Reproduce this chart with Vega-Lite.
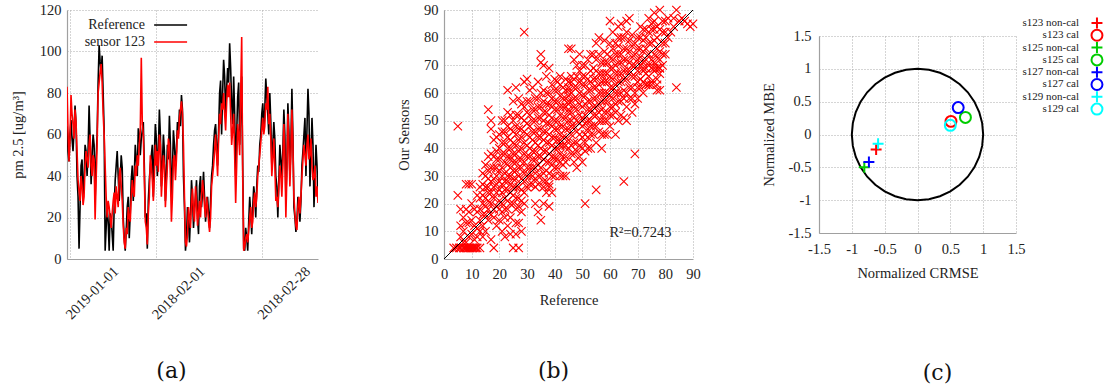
{
  "$schema": "https://vega.github.io/schema/vega-lite/v6.json",
  "background": "white",
  "padding": {"left": 10, "top": 2, "right": 0, "bottom": 0},
  "config": {
    "font": "Liberation Serif",
    "view": {"stroke": null},
    "axis": {"labelFont": "Liberation Serif", "titleFont": "Liberation Serif", "labelFontSize": 14.5, "titleFontSize": 14.5, "titleFontWeight": "normal", "labelColor": "#222222", "titleColor": "#222222", "domainColor": "#a0a0a0", "domainWidth": 1.2, "ticks": false, "gridColor": "#aaaaaa", "gridDash": [1, 2], "gridWidth": 1, "labelPadding": 6, "labelFlush": false, "labelOverlap": false, "labelSeparation": -100},
    "title": {"font": "DejaVu Serif", "fontSize": 22, "fontWeight": "normal", "color": "#111111"}
  },
  "datasets": {
    "ts": [
      {"d":0,"ref":64,"s":83},{"d":0.5,"ref":47,"s":47},{"d":1,"ref":67,"s":79},{"d":1.5,"ref":52,"s":65},{"d":2,"ref":74,"s":72},{"d":2.5,"ref":40,"s":52},{"d":3,"ref":5,"s":33},{"d":3.5,"ref":45,"s":40},{"d":4,"ref":30,"s":26},{"d":4.5,"ref":55,"s":45},
      {"d":5,"ref":40,"s":48},{"d":5.5,"ref":74,"s":55},{"d":6,"ref":36,"s":45},{"d":6.5,"ref":60,"s":50},{"d":7,"ref":28,"s":19},{"d":7.5,"ref":60,"s":55},{"d":8,"ref":103,"s":85},{"d":8.5,"ref":90,"s":94},{"d":9,"ref":80,"s":70},{"d":9.5,"ref":4,"s":45},
      {"d":10,"ref":25,"s":20},{"d":10.5,"ref":4,"s":25},{"d":11,"ref":20,"s":15},{"d":11.5,"ref":4,"s":28},{"d":12,"ref":38,"s":22},{"d":12.5,"ref":52,"s":30},{"d":13,"ref":28,"s":40},{"d":13.5,"ref":50,"s":35},{"d":14,"ref":20,"s":16},{"d":14.5,"ref":4,"s":5},
      {"d":15,"ref":25,"s":12},{"d":15.5,"ref":10,"s":20},{"d":16,"ref":38,"s":30},{"d":16.5,"ref":28,"s":32},{"d":17,"ref":55,"s":45},{"d":17.5,"ref":40,"s":50},{"d":18,"ref":60,"s":55},{"d":18.5,"ref":58,"s":97},{"d":19,"ref":66,"s":60},{"d":19.5,"ref":20,"s":18},
      {"d":20,"ref":5,"s":7},{"d":20.5,"ref":38,"s":30},{"d":21,"ref":50,"s":45},{"d":21.5,"ref":30,"s":28},{"d":22,"ref":65,"s":55},{"d":22.5,"ref":40,"s":52},{"d":23,"ref":72,"s":60},{"d":23.5,"ref":35,"s":30},{"d":24,"ref":60,"s":50},{"d":24.5,"ref":28,"s":25},
      {"d":25,"ref":55,"s":45},{"d":25.5,"ref":69,"s":55},{"d":26,"ref":30,"s":18},{"d":26.5,"ref":62,"s":48},{"d":27,"ref":45,"s":38},{"d":27.5,"ref":66,"s":62},{"d":28,"ref":72,"s":68},{"d":28.5,"ref":79,"s":76},{"d":29,"ref":40,"s":55},{"d":29.5,"ref":4,"s":8},
      {"d":30,"ref":25,"s":12},{"d":30.5,"ref":8,"s":20},{"d":31,"ref":38,"s":28},{"d":31.5,"ref":15,"s":22},{"d":32,"ref":30,"s":35},{"d":32.5,"ref":20,"s":16},{"d":33,"ref":35,"s":28},{"d":33.5,"ref":25,"s":30},{"d":34,"ref":42,"s":33},{"d":34.5,"ref":18,"s":20},
      {"d":35,"ref":30,"s":25},{"d":35.5,"ref":15,"s":13},{"d":36,"ref":40,"s":35},{"d":36.5,"ref":55,"s":45},{"d":37,"ref":65,"s":60},{"d":37.5,"ref":45,"s":40},{"d":38,"ref":80,"s":70},{"d":38.5,"ref":60,"s":75},{"d":39,"ref":96,"s":80},{"d":39.5,"ref":70,"s":62},
      {"d":40,"ref":92,"s":84},{"d":40.5,"ref":104,"s":85},{"d":41,"ref":75,"s":55},{"d":41.5,"ref":88,"s":70},{"d":42,"ref":40,"s":27},{"d":42.5,"ref":78,"s":65},{"d":43,"ref":55,"s":50},{"d":43.5,"ref":88,"s":107},{"d":44,"ref":5,"s":4},{"d":44.5,"ref":15,"s":10},
      {"d":45,"ref":4,"s":8},{"d":45.5,"ref":30,"s":20},{"d":46,"ref":12,"s":15},{"d":46.5,"ref":35,"s":28},{"d":47,"ref":20,"s":25},{"d":47.5,"ref":45,"s":40},{"d":48,"ref":55,"s":50},{"d":48.5,"ref":70,"s":62},{"d":49,"ref":62,"s":60},{"d":49.5,"ref":87,"s":75},
      {"d":50,"ref":70,"s":83},{"d":50.5,"ref":80,"s":70},{"d":51,"ref":45,"s":40},{"d":51.5,"ref":66,"s":58},{"d":52,"ref":40,"s":28},{"d":52.5,"ref":20,"s":25},{"d":53,"ref":55,"s":45},{"d":53.5,"ref":38,"s":30},{"d":54,"ref":72,"s":65},{"d":54.5,"ref":30,"s":20},
      {"d":55,"ref":75,"s":70},{"d":55.5,"ref":40,"s":35},{"d":56,"ref":82,"s":72},{"d":56.5,"ref":25,"s":30},{"d":57,"ref":13,"s":16},{"d":57.5,"ref":30,"s":25},{"d":58,"ref":18,"s":22},{"d":58.5,"ref":45,"s":40},{"d":59,"ref":60,"s":55},{"d":59.5,"ref":40,"s":45},
      {"d":60,"ref":82,"s":60},{"d":60.5,"ref":35,"s":50},{"d":61,"ref":68,"s":45},{"d":61.5,"ref":25,"s":40},{"d":62,"ref":55,"s":30},{"d":62.5,"ref":30,"s":27},
      {"d":0.25,"ref":52,"s":62},{"d":0.75,"ref":60,"s":58},{"d":1.25,"ref":58,"s":70},{"d":1.75,"ref":62,"s":58},{"d":2.25,"ref":65,"s":66},{"d":2.75,"ref":30,"s":38},{"d":3.25,"ref":25,"s":28},{"d":3.75,"ref":48,"s":35},{"d":4.25,"ref":38,"s":30},{"d":4.75,"ref":52,"s":52},
      {"d":5.25,"ref":52,"s":44},{"d":5.75,"ref":58,"s":60},{"d":6.25,"ref":50,"s":40},{"d":6.75,"ref":55,"s":48},{"d":7.25,"ref":48,"s":38},{"d":7.75,"ref":85,"s":80},{"d":8.25,"ref":95,"s":90},{"d":8.75,"ref":98,"s":85},{"d":9.25,"ref":62,"s":60},{"d":9.75,"ref":15,"s":30},
      {"d":10.25,"ref":18,"s":28},{"d":10.75,"ref":22,"s":20},{"d":11.25,"ref":12,"s":22},{"d":11.75,"ref":25,"s":32},{"d":12.25,"ref":45,"s":35},{"d":12.75,"ref":40,"s":25},{"d":13.25,"ref":38,"s":44},{"d":13.75,"ref":44,"s":28},{"d":14.25,"ref":10,"s":8},{"d":14.75,"ref":14,"s":15},
      {"d":15.25,"ref":30,"s":25},{"d":15.75,"ref":22,"s":18},{"d":16.25,"ref":45,"s":38},{"d":16.75,"ref":40,"s":30},{"d":17.25,"ref":48,"s":40},{"d":17.75,"ref":63,"s":45},{"d":18.25,"ref":50,"s":62},{"d":18.75,"ref":62,"s":65},{"d":19.25,"ref":45,"s":40},{"d":19.75,"ref":22,"s":15},
      {"d":20.25,"ref":28,"s":22},{"d":20.75,"ref":45,"s":50},{"d":21.25,"ref":55,"s":38},{"d":21.75,"ref":50,"s":40},{"d":22.25,"ref":58,"s":45},{"d":22.75,"ref":52,"s":42},{"d":23.25,"ref":60,"s":55},{"d":23.75,"ref":45,"s":40},{"d":24.25,"ref":52,"s":45},{"d":24.75,"ref":40,"s":35},
      {"d":25.25,"ref":48,"s":58},{"d":25.75,"ref":55,"s":40},{"d":26.25,"ref":42,"s":30},{"d":26.75,"ref":55,"s":50},{"d":27.25,"ref":52,"s":48},{"d":27.75,"ref":60,"s":58},{"d":28.25,"ref":64,"s":72},{"d":28.75,"ref":72,"s":70},{"d":29.25,"ref":25,"s":30},{"d":29.75,"ref":10,"s":6},
      {"d":30.25,"ref":18,"s":25},{"d":30.75,"ref":20,"s":15},{"d":31.25,"ref":30,"s":34},{"d":31.75,"ref":24,"s":18},{"d":32.25,"ref":38,"s":28},{"d":32.75,"ref":12,"s":22},{"d":33.25,"ref":40,"s":20},{"d":33.75,"ref":32,"s":38},{"d":34.25,"ref":30,"s":25},{"d":34.75,"ref":25,"s":30},
      {"d":35.25,"ref":22,"s":18},{"d":35.75,"ref":28,"s":20},{"d":36.25,"ref":45,"s":40},{"d":36.75,"ref":62,"s":52},{"d":37.25,"ref":55,"s":50},{"d":37.75,"ref":62,"s":58},{"d":38.25,"ref":86,"s":65},{"d":38.75,"ref":80,"s":72},{"d":39.25,"ref":88,"s":70},{"d":39.75,"ref":82,"s":75},
      {"d":40.25,"ref":85,"s":78},{"d":40.75,"ref":92,"s":70},{"d":41.25,"ref":65,"s":62},{"d":41.75,"ref":70,"s":50},{"d":42.25,"ref":60,"s":45},{"d":42.75,"ref":85,"s":60},{"d":43.25,"ref":70,"s":80},{"d":43.75,"ref":45,"s":40},{"d":44.25,"ref":4,"s":6},{"d":44.75,"ref":10,"s":12},
      {"d":45.25,"ref":18,"s":14},{"d":45.75,"ref":22,"s":25},{"d":46.25,"ref":25,"s":18},{"d":46.75,"ref":30,"s":32},{"d":47.25,"ref":35,"s":30},{"d":47.75,"ref":42,"s":45},{"d":48.25,"ref":60,"s":56},{"d":48.75,"ref":75,"s":68},{"d":49.25,"ref":72,"s":64},{"d":49.75,"ref":78,"s":72},
      {"d":50.25,"ref":60,"s":65},{"d":50.75,"ref":66,"s":58},{"d":51.25,"ref":55,"s":48},{"d":51.75,"ref":58,"s":45},{"d":52.25,"ref":35,"s":30},{"d":52.75,"ref":38,"s":35},{"d":53.25,"ref":48,"s":40},{"d":53.75,"ref":52,"s":45},{"d":54.25,"ref":60,"s":50},{"d":54.75,"ref":45,"s":40},
      {"d":55.25,"ref":62,"s":55},{"d":55.75,"ref":55,"s":50},{"d":56.25,"ref":60,"s":55},{"d":56.75,"ref":20,"s":22},{"d":57.25,"ref":18,"s":14},{"d":57.75,"ref":25,"s":30},{"d":58.25,"ref":28,"s":30},{"d":58.75,"ref":52,"s":48},{"d":59.25,"ref":68,"s":50},{"d":59.75,"ref":62,"s":55},
      {"d":60.25,"ref":70,"s":48},{"d":60.75,"ref":50,"s":58},{"d":61.25,"ref":55,"s":38},{"d":61.75,"ref":40,"s":45},{"d":62.25,"ref":45,"s":35}
    ],
    "sc": [
      {"x":3.5,"y":4},{"x":4.5,"y":4},{"x":5.5,"y":4},{"x":6,"y":4},{"x":7,"y":4},{"x":7.5,"y":4},{"x":8,"y":4},{"x":8.5,"y":4},{"x":9,"y":4},{"x":9.5,"y":4},{"x":10,"y":4},{"x":10.5,"y":4},{"x":11,"y":4},{"x":11.5,"y":4},{"x":12,"y":4},{"x":13,"y":4},{"x":18,"y":4},{"x":25,"y":4},{"x":27,"y":4},
      {"x":5,"y":23},{"x":5,"y":48},{"x":6,"y":12},{"x":7,"y":15},{"x":7,"y":10},{"x":8,"y":18},{"x":8,"y":27},{"x":9,"y":27},{"x":10,"y":27},{"x":9,"y":17},{"x":9,"y":13},{"x":10,"y":9},{"x":10,"y":14},{"x":11,"y":12},{"x":11,"y":7},{"x":12,"y":23},{"x":12,"y":11},{"x":6,"y":8},{"x":8,"y":6},{"x":13,"y":14},{"x":13,"y":10},
      {"x":13,"y":18},{"x":14,"y":12},{"x":14,"y":20},{"x":14,"y":27},{"x":15,"y":16},{"x":15,"y":22},{"x":15,"y":30},{"x":15,"y":10},{"x":16,"y":18},{"x":16,"y":24},{"x":16,"y":14},{"x":16,"y":32},{"x":17,"y":20},{"x":17,"y":28},{"x":17,"y":38},{"x":17,"y":47},{"x":17,"y":50},{"x":16,"y":54},{"x":18,"y":22},{"x":18,"y":26},{"x":18,"y":33},{"x":18,"y":15},{"x":18,"y":43},{"x":19,"y":19},{"x":19,"y":24},{"x":19,"y":30},{"x":19,"y":36},{"x":20,"y":25},{"x":20,"y":18},{"x":20,"y":32},{"x":20,"y":40},{"x":17,"y":7},{"x":19,"y":12},{"x":20,"y":14},{"x":21,"y":10},{"x":22,"y":50},{"x":21,"y":46},{"x":23,"y":61},{"x":24,"y":52},{"x":24,"y":9},{"x":19,"y":39},{"x":14,"y":23},{"x":15,"y":26},{"x":16,"y":29},
      {"x":21,"y":20},{"x":21,"y":27},{"x":21,"y":33},{"x":21,"y":38},{"x":22,"y":15},{"x":22,"y":22},{"x":22,"y":28},{"x":22,"y":35},{"x":22,"y":42},{"x":23,"y":18},{"x":23,"y":25},{"x":23,"y":30},{"x":23,"y":37},{"x":23,"y":44},{"x":24,"y":20},{"x":24,"y":27},{"x":24,"y":33},{"x":24,"y":40},{"x":24,"y":47},{"x":25,"y":23},{"x":25,"y":29},{"x":25,"y":35},{"x":25,"y":42},{"x":25,"y":50},{"x":26,"y":18},{"x":26,"y":26},{"x":26,"y":32},{"x":26,"y":38},{"x":26,"y":45},{"x":27,"y":22},{"x":27,"y":30},{"x":27,"y":36},{"x":27,"y":43},{"x":27,"y":52},{"x":28,"y":25},{"x":28,"y":33},{"x":28,"y":40},{"x":28,"y":47},{"x":28,"y":56},{"x":29,"y":20},{"x":29,"y":28},{"x":29,"y":35},{"x":29,"y":42},{"x":29,"y":50},{"x":29,"y":64},{"x":30,"y":65},{"x":29,"y":82},{"x":30,"y":30},{"x":30,"y":37},{"x":30,"y":45},{"x":30,"y":53},
      {"x":31,"y":27},{"x":31,"y":33},{"x":31,"y":40},{"x":31,"y":48},{"x":31,"y":57},{"x":32,"y":30},{"x":32,"y":36},{"x":32,"y":43},{"x":32,"y":50},{"x":33,"y":26},{"x":33,"y":33},{"x":33,"y":39},{"x":33,"y":46},{"x":33,"y":54},{"x":34,"y":30},{"x":34,"y":37},{"x":34,"y":44},{"x":34,"y":51},{"x":34,"y":58},{"x":35,"y":14},{"x":35,"y":71},{"x":35,"y":74},{"x":35,"y":33},{"x":35,"y":40},{"x":35,"y":47},{"x":35,"y":55},{"x":28,"y":17},{"x":27,"y":19},{"x":26,"y":13},{"x":22,"y":8},{"x":23,"y":12},{"x":20,"y":45},{"x":21,"y":50},{"x":24,"y":37},{"x":26,"y":48},
      {"x":36,"y":28},{"x":36,"y":36},{"x":36,"y":43},{"x":36,"y":50},{"x":36,"y":57},{"x":37,"y":32},{"x":37,"y":39},{"x":37,"y":46},{"x":37,"y":53},{"x":37,"y":60},{"x":38,"y":27},{"x":38,"y":35},{"x":38,"y":42},{"x":38,"y":49},{"x":38,"y":56},{"x":38,"y":69},{"x":39,"y":30},{"x":39,"y":37},{"x":39,"y":44},{"x":39,"y":51},{"x":39,"y":63},{"x":40,"y":33},{"x":40,"y":40},{"x":40,"y":47},{"x":40,"y":54},{"x":40,"y":61},{"x":41,"y":36},{"x":41,"y":43},{"x":41,"y":50},{"x":41,"y":57},{"x":42,"y":30},{"x":42,"y":38},{"x":42,"y":45},{"x":42,"y":52},{"x":42,"y":59},{"x":43,"y":34},{"x":43,"y":41},{"x":43,"y":48},{"x":43,"y":55},{"x":43,"y":62},{"x":44,"y":30},{"x":44,"y":44},{"x":44,"y":51},{"x":44,"y":58},{"x":44,"y":65},{"x":45,"y":40},{"x":45,"y":47},{"x":45,"y":54},{"x":45,"y":61},{"x":45,"y":76},{"x":46,"y":76},{"x":46,"y":45},{"x":46,"y":50},{"x":46,"y":57},{"x":46,"y":64},{"x":36,"y":26},{"x":37,"y":24},{"x":38,"y":26},{"x":40,"y":36},{"x":42,"y":43},{"x":39,"y":55},{"x":41,"y":64},{"x":43,"y":30},{"x":44,"y":37},
      {"x":47,"y":38},{"x":47,"y":48},{"x":47,"y":55},{"x":47,"y":62},{"x":48,"y":42},{"x":48,"y":50},{"x":48,"y":58},{"x":48,"y":66},{"x":49,"y":45},{"x":49,"y":52},{"x":49,"y":60},{"x":49,"y":68},{"x":50,"y":40},{"x":50,"y":48},{"x":50,"y":55},{"x":50,"y":63},{"x":50,"y":70},{"x":51,"y":20},{"x":51,"y":39},{"x":51,"y":45},{"x":51,"y":52},{"x":51,"y":59},{"x":51,"y":66},{"x":52,"y":47},{"x":52,"y":54},{"x":52,"y":61},{"x":52,"y":72},{"x":53,"y":45},{"x":53,"y":50},{"x":53,"y":57},{"x":53,"y":64},{"x":54,"y":48},{"x":54,"y":55},{"x":54,"y":62},{"x":54,"y":69},{"x":55,"y":25},{"x":55,"y":52},{"x":55,"y":58},{"x":55,"y":65},{"x":55,"y":72},{"x":56,"y":50},{"x":56,"y":56},{"x":56,"y":63},{"x":56,"y":80},{"x":57,"y":45},{"x":57,"y":54},{"x":57,"y":60},{"x":57,"y":67},{"x":58,"y":50},{"x":58,"y":57},{"x":58,"y":64},{"x":58,"y":71},{"x":47,"y":35},{"x":49,"y":37},{"x":52,"y":40},
      {"x":59,"y":53},{"x":59,"y":60},{"x":59,"y":67},{"x":59,"y":74},{"x":60,"y":55},{"x":60,"y":62},{"x":60,"y":69},{"x":60,"y":86},{"x":61,"y":52},{"x":61,"y":58},{"x":61,"y":65},{"x":61,"y":72},{"x":62,"y":56},{"x":62,"y":63},{"x":62,"y":70},{"x":62,"y":78},{"x":63,"y":60},{"x":63,"y":67},{"x":63,"y":74},{"x":63,"y":80},{"x":64,"y":57},{"x":64,"y":64},{"x":64,"y":71},{"x":64,"y":85},{"x":65,"y":28},{"x":65,"y":51},{"x":65,"y":61},{"x":65,"y":68},{"x":65,"y":76},{"x":66,"y":55},{"x":66,"y":65},{"x":66,"y":72},{"x":66,"y":82},{"x":67,"y":58},{"x":67,"y":68},{"x":67,"y":75},{"x":67,"y":87},{"x":68,"y":62},{"x":68,"y":70},{"x":68,"y":77},{"x":69,"y":38},{"x":69,"y":56},{"x":69,"y":66},{"x":69,"y":74},{"x":70,"y":58},{"x":70,"y":64},{"x":70,"y":72},{"x":70,"y":80},{"x":60,"y":48},{"x":62,"y":45},{"x":64,"y":52},{"x":58,"y":45},
      {"x":71,"y":65},{"x":71,"y":70},{"x":71,"y":76},{"x":71,"y":84},{"x":72,"y":60},{"x":72,"y":68},{"x":72,"y":75},{"x":73,"y":63},{"x":73,"y":72},{"x":73,"y":83},{"x":74,"y":63},{"x":74,"y":70},{"x":74,"y":78},{"x":74,"y":87},{"x":75,"y":64},{"x":75,"y":69},{"x":75,"y":85},{"x":76,"y":68},{"x":76,"y":74},{"x":76,"y":83},{"x":76,"y":89},{"x":77,"y":61},{"x":77,"y":65},{"x":77,"y":69},{"x":77,"y":76},{"x":77,"y":84},{"x":78,"y":67},{"x":78,"y":75},{"x":78,"y":90},{"x":79,"y":70},{"x":79,"y":78},{"x":79,"y":82},{"x":80,"y":74},{"x":80,"y":82},{"x":81,"y":80},{"x":81,"y":87},{"x":82,"y":82},{"x":83,"y":84},{"x":83,"y":87},{"x":84,"y":62},{"x":84,"y":90},{"x":85,"y":86},{"x":86,"y":87},{"x":87,"y":86},{"x":88,"y":85},{"x":89,"y":84},{"x":90,"y":85},{"x":72,"y":83},{"x":75,"y":83},{"x":78,"y":61},
      {"x":13,"y":22},{"x":14,"y":16},{"x":14,"y":31},{"x":15,"y":19},{"x":15,"y":34},{"x":16,"y":21},{"x":16,"y":26},{"x":16,"y":37},{"x":17,"y":16},{"x":17,"y":24},{"x":17,"y":33},{"x":18,"y":18},{"x":18,"y":29},{"x":18,"y":37},{"x":19,"y":27},{"x":19,"y":33},{"x":19,"y":44},{"x":20,"y":21},{"x":20,"y":28},{"x":20,"y":36},{"x":12,"y":17},{"x":13,"y":26},{"x":11,"y":18},{"x":10,"y":20},{"x":12,"y":8},{"x":14,"y":8},{"x":7,"y":6},{"x":9,"y":8},{"x":6,"y":18},{"x":8,"y":13},
      {"x":21,"y":17},{"x":21,"y":24},{"x":21,"y":30},{"x":21,"y":42},{"x":22,"y":18},{"x":22,"y":25},{"x":22,"y":31},{"x":22,"y":38},{"x":22,"y":46},{"x":23,"y":21},{"x":23,"y":28},{"x":23,"y":34},{"x":23,"y":40},{"x":23,"y":48},{"x":24,"y":24},{"x":24,"y":30},{"x":24,"y":36},{"x":24,"y":43},{"x":25,"y":20},{"x":25,"y":26},{"x":25,"y":32},{"x":25,"y":38},{"x":25,"y":46},{"x":26,"y":22},{"x":26,"y":29},{"x":26,"y":35},{"x":26,"y":41},{"x":26,"y":52},{"x":27,"y":26},{"x":27,"y":33},{"x":27,"y":39},{"x":27,"y":47},{"x":28,"y":21},{"x":28,"y":29},{"x":28,"y":36},{"x":28,"y":44},{"x":28,"y":51},{"x":29,"y":24},{"x":29,"y":31},{"x":29,"y":38},{"x":29,"y":46},{"x":29,"y":55},{"x":30,"y":26},{"x":30,"y":33},{"x":30,"y":41},{"x":30,"y":49},{"x":30,"y":57},{"x":26,"y":9},{"x":24,"y":15},{"x":27,"y":13},{"x":28,"y":10},{"x":23,"y":53},{"x":25,"y":57},{"x":26,"y":62},{"x":27,"y":58},
      {"x":31,"y":30},{"x":31,"y":37},{"x":31,"y":44},{"x":31,"y":52},{"x":31,"y":61},{"x":32,"y":27},{"x":32,"y":33},{"x":32,"y":39},{"x":32,"y":46},{"x":32,"y":54},{"x":33,"y":29},{"x":33,"y":36},{"x":33,"y":42},{"x":33,"y":50},{"x":33,"y":58},{"x":34,"y":27},{"x":34,"y":34},{"x":34,"y":41},{"x":34,"y":47},{"x":34,"y":55},{"x":35,"y":30},{"x":35,"y":37},{"x":35,"y":44},{"x":35,"y":51},{"x":35,"y":60},{"x":36,"y":31},{"x":36,"y":39},{"x":36,"y":46},{"x":36,"y":53},{"x":36,"y":61},{"x":37,"y":28},{"x":37,"y":35},{"x":37,"y":42},{"x":37,"y":49},{"x":37,"y":56},{"x":38,"y":31},{"x":38,"y":38},{"x":38,"y":45},{"x":38,"y":52},{"x":38,"y":60},{"x":39,"y":34},{"x":39,"y":41},{"x":39,"y":48},{"x":39,"y":58},{"x":40,"y":30},{"x":40,"y":37},{"x":40,"y":44},{"x":40,"y":50},{"x":40,"y":57},{"x":40,"y":65},{"x":33,"y":20},{"x":34,"y":17},{"x":36,"y":20},{"x":38,"y":19},{"x":39,"y":24},{"x":32,"y":62},{"x":34,"y":64},{"x":37,"y":66},{"x":36,"y":70},
      {"x":41,"y":33},{"x":41,"y":40},{"x":41,"y":47},{"x":41,"y":54},{"x":41,"y":61},{"x":42,"y":35},{"x":42,"y":41},{"x":42,"y":48},{"x":42,"y":55},{"x":42,"y":63},{"x":43,"y":37},{"x":43,"y":44},{"x":43,"y":51},{"x":43,"y":58},{"x":44,"y":41},{"x":44,"y":47},{"x":44,"y":55},{"x":44,"y":61},{"x":45,"y":43},{"x":45,"y":50},{"x":45,"y":57},{"x":45,"y":64},{"x":45,"y":62},{"x":45,"y":59},{"x":45,"y":56},{"x":45,"y":53},{"x":46,"y":41},{"x":46,"y":48},{"x":46,"y":53},{"x":46,"y":60},{"x":46,"y":66},{"x":47,"y":42},{"x":47,"y":51},{"x":47,"y":58},{"x":47,"y":65},{"x":48,"y":39},{"x":48,"y":46},{"x":48,"y":54},{"x":48,"y":62},{"x":48,"y":70},{"x":49,"y":41},{"x":49,"y":49},{"x":49,"y":56},{"x":49,"y":64},{"x":50,"y":44},{"x":50,"y":51},{"x":50,"y":59},{"x":50,"y":66},{"x":44,"y":35},{"x":46,"y":38},{"x":48,"y":33},{"x":50,"y":35},{"x":42,"y":66},{"x":47,"y":72},{"x":49,"y":74},
      {"x":51,"y":42},{"x":51,"y":49},{"x":51,"y":56},{"x":51,"y":63},{"x":51,"y":70},{"x":52,"y":44},{"x":52,"y":50},{"x":52,"y":57},{"x":52,"y":65},{"x":53,"y":48},{"x":53,"y":54},{"x":53,"y":61},{"x":53,"y":68},{"x":54,"y":45},{"x":54,"y":52},{"x":54,"y":58},{"x":54,"y":65},{"x":54,"y":74},{"x":55,"y":48},{"x":55,"y":55},{"x":55,"y":62},{"x":55,"y":68},{"x":56,"y":53},{"x":56,"y":60},{"x":56,"y":67},{"x":56,"y":74},{"x":57,"y":50},{"x":57,"y":57},{"x":57,"y":64},{"x":57,"y":71},{"x":58,"y":53},{"x":58,"y":60},{"x":58,"y":67},{"x":58,"y":75},{"x":59,"y":50},{"x":59,"y":57},{"x":59,"y":64},{"x":59,"y":71},{"x":60,"y":52},{"x":60,"y":59},{"x":60,"y":66},{"x":60,"y":73},{"x":53,"y":40},{"x":55,"y":42},{"x":57,"y":40},{"x":59,"y":45},{"x":56,"y":46},{"x":53,"y":74},{"x":55,"y":78},{"x":58,"y":79},{"x":60,"y":78},
      {"x":61,"y":55},{"x":61,"y":62},{"x":61,"y":69},{"x":61,"y":76},{"x":62,"y":53},{"x":62,"y":60},{"x":62,"y":67},{"x":62,"y":74},{"x":63,"y":57},{"x":63,"y":64},{"x":63,"y":71},{"x":63,"y":77},{"x":64,"y":60},{"x":64,"y":67},{"x":64,"y":74},{"x":64,"y":80},{"x":65,"y":58},{"x":65,"y":65},{"x":65,"y":72},{"x":65,"y":80},{"x":66,"y":60},{"x":66,"y":68},{"x":66,"y":76},{"x":67,"y":62},{"x":67,"y":71},{"x":67,"y":79},{"x":68,"y":58},{"x":68,"y":66},{"x":68,"y":73},{"x":68,"y":81},{"x":69,"y":60},{"x":69,"y":70},{"x":69,"y":78},{"x":70,"y":62},{"x":70,"y":68},{"x":70,"y":76},{"x":63,"y":50},{"x":66,"y":50},{"x":68,"y":53},{"x":61,"y":82},{"x":63,"y":84},{"x":66,"y":86},
      {"x":71,"y":62},{"x":71,"y":73},{"x":71,"y":80},{"x":72,"y":64},{"x":72,"y":71},{"x":72,"y":79},{"x":73,"y":67},{"x":73,"y":76},{"x":73,"y":80},{"x":74,"y":66},{"x":74,"y":74},{"x":74,"y":82},{"x":75,"y":72},{"x":75,"y":78},{"x":76,"y":71},{"x":76,"y":79},{"x":76,"y":86},{"x":77,"y":63},{"x":77,"y":73},{"x":77,"y":80},{"x":78,"y":69},{"x":78,"y":72},{"x":78,"y":83},{"x":79,"y":74},{"x":79,"y":86},{"x":80,"y":78},{"x":80,"y":86},{"x":73,"y":63},{"x":74,"y":63},{"x":75,"y":63},{"x":76,"y":69},{"x":77,"y":69},{"x":78,"y":69},{"x":73,"y":69},{"x":72,"y":69}
    ],
    "diag": [{"x":0,"y":0},{"x":90,"y":90}],
    "circ": [
      {"a":0,"x":1,"y":0},{"a":10,"x":0.9848,"y":0.1736},{"a":20,"x":0.9397,"y":0.342},{"a":30,"x":0.866,"y":0.5},{"a":40,"x":0.766,"y":0.6428},{"a":50,"x":0.6428,"y":0.766},{"a":60,"x":0.5,"y":0.866},{"a":70,"x":0.342,"y":0.9397},{"a":80,"x":0.1736,"y":0.9848},{"a":90,"x":0,"y":1},
      {"a":100,"x":-0.1736,"y":0.9848},{"a":110,"x":-0.342,"y":0.9397},{"a":120,"x":-0.5,"y":0.866},{"a":130,"x":-0.6428,"y":0.766},{"a":140,"x":-0.766,"y":0.6428},{"a":150,"x":-0.866,"y":0.5},{"a":160,"x":-0.9397,"y":0.342},{"a":170,"x":-0.9848,"y":0.1736},{"a":180,"x":-1,"y":0},
      {"a":190,"x":-0.9848,"y":-0.1736},{"a":200,"x":-0.9397,"y":-0.342},{"a":210,"x":-0.866,"y":-0.5},{"a":220,"x":-0.766,"y":-0.6428},{"a":230,"x":-0.6428,"y":-0.766},{"a":240,"x":-0.5,"y":-0.866},{"a":250,"x":-0.342,"y":-0.9397},{"a":260,"x":-0.1736,"y":-0.9848},{"a":270,"x":0,"y":-1},
      {"a":280,"x":0.1736,"y":-0.9848},{"a":290,"x":0.342,"y":-0.9397},{"a":300,"x":0.5,"y":-0.866},{"a":310,"x":0.6428,"y":-0.766},{"a":320,"x":0.766,"y":-0.6428},{"a":330,"x":0.866,"y":-0.5},{"a":340,"x":0.9397,"y":-0.342},{"a":350,"x":0.9848,"y":-0.1736},{"a":360,"x":1,"y":0}
    ],
    "tay": [
      {"x":-0.63,"y":-0.23,"label":"s123 non-cal"},
      {"x":0.51,"y":0.2,"label":"s123 cal"},
      {"x":-0.81,"y":-0.5,"label":"s125 non-cal"},
      {"x":0.73,"y":0.26,"label":"s125 cal"},
      {"x":-0.74,"y":-0.42,"label":"s127 non-cal"},
      {"x":0.62,"y":0.41,"label":"s127 cal"},
      {"x":-0.6,"y":-0.14,"label":"s129 non-cal"},
      {"x":0.5,"y":0.14,"label":"s129 cal"}
    ]
  },
  "hconcat": [
    {
      "width": 251,
      "height": 249,
      "title": {"text": "(a)", "orient": "bottom", "frame": "group", "anchor": "middle", "dx": -21, "offset": 40},
      "data": {"name": "ts"},
      "layer": [
        {
          "mark": {"type": "line", "strokeWidth": 1.6, "clip": true, "color": "#000000"},
          "encoding": {
            "x": {"field": "d", "type": "quantitative", "scale": {"domain": [0, 62.5], "nice": false, "zero": false},
                  "axis": {"title": null, "values": [0.75, 22.25, 48.5], "labelExpr": "datum.value < 10 ? '2019-01-01' : datum.value < 30 ? '2018-02-01' : '2018-02-28'", "labelAngle": -45, "labelAlign": "right", "labelBaseline": "middle", "labelOffset": 46, "labelPadding": 10, "grid": true, "labelOverlap": false, "labelSeparation": -100}},
            "y": {"field": "ref", "type": "quantitative", "title": "pm 2.5 [ug/m³]", "scale": {"domain": [0, 120], "nice": false},
                  "axis": {"values": [0, 20, 40, 60, 80, 100, 120], "grid": true, "titlePadding": 14, "labelOverlap": false, "labelSeparation": -100}}
          }
        },
        {
          "mark": {"type": "line", "strokeWidth": 1.6, "clip": true, "color": "#ff0000"},
          "encoding": {
            "x": {"field": "d", "type": "quantitative"},
            "y": {"field": "s", "type": "quantitative", "title": "pm 2.5 [ug/m³]"}
          }
        },
        {
          "data": {"values": [{}]},
          "mark": {"type": "text", "align": "right", "baseline": "middle", "font": "Liberation Serif", "fontSize": 14, "color": "#222222"},
          "encoding": {"x": {"datum": 19.4, "type": "quantitative"}, "y": {"datum": 112.8, "type": "quantitative"}, "text": {"value": "Reference"}}
        },
        {
          "data": {"values": [{}]},
          "mark": {"type": "text", "align": "right", "baseline": "middle", "font": "Liberation Serif", "fontSize": 14, "color": "#222222"},
          "encoding": {"x": {"datum": 19.4, "type": "quantitative"}, "y": {"datum": 104.6, "type": "quantitative"}, "text": {"value": "sensor 123"}}
        },
        {
          "data": {"values": [{}]},
          "mark": {"type": "rule", "color": "#000000", "strokeWidth": 1.6},
          "encoding": {"x": {"datum": 21.7, "type": "quantitative"}, "x2": {"datum": 29.9}, "y": {"datum": 112.8, "type": "quantitative"}}
        },
        {
          "data": {"values": [{}]},
          "mark": {"type": "rule", "color": "#ff0000", "strokeWidth": 1.6},
          "encoding": {"x": {"datum": 21.7, "type": "quantitative"}, "x2": {"datum": 29.9}, "y": {"datum": 104.6, "type": "quantitative"}}
        }
      ]
    },
    {
      "width": 249,
      "height": 249,
      "title": {"text": "(b)", "orient": "bottom", "frame": "group", "anchor": "middle", "dx": -15, "offset": 54},
      "layer": [
        {
          "data": {"name": "sc"},
          "mark": {"type": "point", "shape": "M-1,-1L1,1M1,-1L-1,1", "filled": false, "color": "#ff0000", "size": 70, "strokeWidth": 1.1, "opacity": 1},
          "encoding": {
            "x": {"field": "x", "type": "quantitative", "title": "Reference", "scale": {"domain": [0, 90], "nice": false},
                  "axis": {"values": [0, 10, 20, 30, 40, 50, 60, 70, 80, 90], "grid": true, "labelPadding": 8, "titlePadding": 13, "labelOverlap": false, "labelSeparation": -100}},
            "y": {"field": "y", "type": "quantitative", "title": "Our Sensors", "scale": {"domain": [0, 90], "nice": false},
                  "axis": {"values": [0, 10, 20, 30, 40, 50, 60, 70, 80, 90], "grid": true, "titlePadding": 12, "labelOverlap": false, "labelSeparation": -100}}
          }
        },
        {
          "data": {"name": "diag"},
          "mark": {"type": "line", "color": "#000000", "strokeWidth": 1},
          "encoding": {
            "x": {"field": "x", "type": "quantitative", "title": "Reference", "axis": {"values": [0, 10, 20, 30, 40, 50, 60, 70, 80, 90], "grid": true, "labelPadding": 8, "titlePadding": 13, "labelOverlap": false, "labelSeparation": -100}},
            "y": {"field": "y", "type": "quantitative", "title": "Our Sensors", "axis": {"values": [0, 10, 20, 30, 40, 50, 60, 70, 80, 90], "grid": true, "titlePadding": 12, "labelOverlap": false, "labelSeparation": -100}}
          }
        },
        {
          "data": {"values": [{"label": "R²=0.7243"}]},
          "mark": {"type": "text", "font": "Liberation Serif", "fontSize": 14.5, "color": "#222222"},
          "encoding": {
            "x": {"datum": 71, "type": "quantitative", "title": "Reference", "axis": {"values": [0, 10, 20, 30, 40, 50, 60, 70, 80, 90], "grid": true, "labelPadding": 8, "titlePadding": 13, "labelOverlap": false, "labelSeparation": -100}},
            "y": {"datum": 9.5, "type": "quantitative", "title": "Our Sensors", "axis": {"values": [0, 10, 20, 30, 40, 50, 60, 70, 80, 90], "grid": true, "titlePadding": 12, "labelOverlap": false, "labelSeparation": -100}},
            "text": {"field": "label"}
          }
        }
      ]
    },
    {
      "width": 197,
      "height": 197,
      "title": {"text": "(c)", "orient": "bottom", "frame": "group", "anchor": "middle", "dx": 20, "offset": 83},
      "resolve": {"scale": {"x": "independent", "y": "independent"}},
      "layer": [
        {
          "layer": [
            {
              "data": {"name": "circ"},
              "mark": {"type": "line", "color": "#000000", "strokeWidth": 2},
              "encoding": {
                "x": {"field": "x", "type": "quantitative", "title": "Normalized CRMSE", "scale": {"domain": [-1.5, 1.5], "nice": false},
                      "axis": {"values": [-1.5, -1, -0.5, 0, 0.5, 1, 1.5], "labelExpr": "'' + datum.value", "grid": true, "labelPadding": 9, "titlePadding": 11, "labelOverlap": false, "labelSeparation": -100}},
                "y": {"field": "y", "type": "quantitative", "title": "Normalized MBE", "scale": {"domain": [-1.5, 1.5], "nice": false},
                      "axis": {"values": [-1.5, -1, -0.5, 0, 0.5, 1, 1.5], "labelExpr": "'' + datum.value", "grid": true, "labelPadding": 8, "titlePadding": 12, "labelOverlap": false, "labelSeparation": -100}},
                "order": {"field": "a", "type": "quantitative"}
              }
            },
            {
              "data": {"name": "tay"},
              "mark": {"type": "point", "filled": false, "size": 120, "strokeWidth": 2, "opacity": 1},
              "encoding": {
                "x": {"field": "x", "type": "quantitative", "title": "Normalized CRMSE", "axis": {"values": [-1.5, -1, -0.5, 0, 0.5, 1, 1.5], "labelExpr": "'' + datum.value", "grid": true, "labelPadding": 9, "titlePadding": 11, "labelOverlap": false, "labelSeparation": -100}},
                "y": {"field": "y", "type": "quantitative", "title": "Normalized MBE", "axis": {"values": [-1.5, -1, -0.5, 0, 0.5, 1, 1.5], "labelExpr": "'' + datum.value", "grid": true, "labelPadding": 8, "titlePadding": 12, "labelOverlap": false, "labelSeparation": -100}},
                "color": {"field": "label", "type": "nominal", "legend": null,
                          "scale": {"domain": ["s123 non-cal", "s123 cal", "s125 non-cal", "s125 cal", "s127 non-cal", "s127 cal", "s129 non-cal", "s129 cal"],
                                    "range": ["#ff0000", "#ff0000", "#00cc00", "#00cc00", "#0000ff", "#0000ff", "#00ffff", "#00ffff"]}},
                "shape": {"field": "label", "type": "nominal", "legend": null,
                          "scale": {"domain": ["s123 non-cal", "s123 cal", "s125 non-cal", "s125 cal", "s127 non-cal", "s127 cal", "s129 non-cal", "s129 cal"],
                                    "range": ["M-1,0H1M0,-1V1", "circle", "M-1,0H1M0,-1V1", "circle", "M-1,0H1M0,-1V1", "circle", "M-1,0H1M0,-1V1", "circle"]}}
              }
            }
          ]
        },
        {
          "layer": [
            {
              "data": {"values": [{}]},
              "mark": {"type": "text", "align": "right", "baseline": "middle", "font": "Liberation Serif", "fontSize": 11, "color": "#222222", "lineHeight": 12.3},
              "encoding": {
                "x": {"datum": 2.459, "type": "quantitative", "scale": {"domain": [-1.5, 1.5], "nice": false, "zero": false}, "axis": null},
                "y": {"datum": 1.698, "type": "quantitative", "scale": {"domain": [-1.5, 1.5], "nice": false, "zero": false}, "axis": null},
                "text": {"value": ["s123 non-cal", "s123 cal", "s125 non-cal", "s125 cal", "s127 non-cal", "s127 cal", "s129 non-cal", "s129 cal"]}
              }
            },
            {"data": {"values": [{}]}, "mark": {"type": "point", "shape": "M-1,0H1M0,-1V1", "filled": false, "size": 120, "strokeWidth": 2, "color": "#ff0000", "opacity": 1},
             "encoding": {"x": {"datum": 2.733, "type": "quantitative"}, "y": {"datum": 1.698, "type": "quantitative"}}},
            {"data": {"values": [{}]}, "mark": {"type": "point", "shape": "circle", "filled": false, "size": 120, "strokeWidth": 2, "color": "#ff0000", "opacity": 1},
             "encoding": {"x": {"datum": 2.733, "type": "quantitative"}, "y": {"datum": 1.511, "type": "quantitative"}}},
            {"data": {"values": [{}]}, "mark": {"type": "point", "shape": "M-1,0H1M0,-1V1", "filled": false, "size": 120, "strokeWidth": 2, "color": "#00cc00", "opacity": 1},
             "encoding": {"x": {"datum": 2.733, "type": "quantitative"}, "y": {"datum": 1.324, "type": "quantitative"}}},
            {"data": {"values": [{}]}, "mark": {"type": "point", "shape": "circle", "filled": false, "size": 120, "strokeWidth": 2, "color": "#00cc00", "opacity": 1},
             "encoding": {"x": {"datum": 2.733, "type": "quantitative"}, "y": {"datum": 1.136, "type": "quantitative"}}},
            {"data": {"values": [{}]}, "mark": {"type": "point", "shape": "M-1,0H1M0,-1V1", "filled": false, "size": 120, "strokeWidth": 2, "color": "#0000ff", "opacity": 1},
             "encoding": {"x": {"datum": 2.733, "type": "quantitative"}, "y": {"datum": 0.949, "type": "quantitative"}}},
            {"data": {"values": [{}]}, "mark": {"type": "point", "shape": "circle", "filled": false, "size": 120, "strokeWidth": 2, "color": "#0000ff", "opacity": 1},
             "encoding": {"x": {"datum": 2.733, "type": "quantitative"}, "y": {"datum": 0.762, "type": "quantitative"}}},
            {"data": {"values": [{}]}, "mark": {"type": "point", "shape": "M-1,0H1M0,-1V1", "filled": false, "size": 120, "strokeWidth": 2, "color": "#00ffff", "opacity": 1},
             "encoding": {"x": {"datum": 2.733, "type": "quantitative"}, "y": {"datum": 0.575, "type": "quantitative"}}},
            {"data": {"values": [{}]}, "mark": {"type": "point", "shape": "circle", "filled": false, "size": 120, "strokeWidth": 2, "color": "#00ffff", "opacity": 1},
             "encoding": {"x": {"datum": 2.733, "type": "quantitative"}, "y": {"datum": 0.387, "type": "quantitative"}}}
          ]
        }
      ]
    }
  ],
  "spacing": 126,
  "bounds": "flush",
  "center": true,
  "resolve": {"scale": {"x": "independent", "y": "independent", "color": "independent", "shape": "independent"}}
}
